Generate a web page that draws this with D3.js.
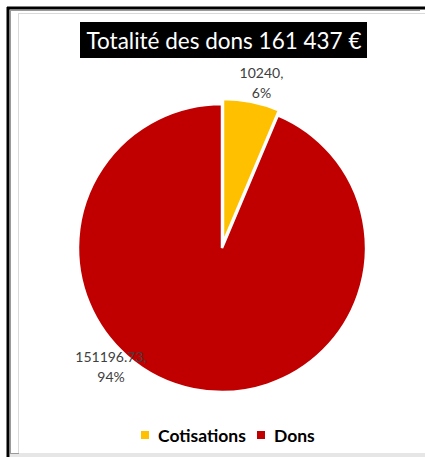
<!DOCTYPE html>
<html>
<head>
<meta charset="utf-8">
<script src="https://cdn.jsdelivr.net/npm/d3@7"></script>
<style>
  body { margin: 0; background: #fff; }
  svg { display: block; font-family: Lato, "Open Sans", sans-serif; }
</style>
</head>
<body>
<script>
// data
var categories = ["Cotisations", "Dons"];
var values = [10240, 151196.73];
var percents = ["6%", "94%"];
var colors = ["#FFC000", "#C00000"];
var titleText = "Totalité des dons 161 437 €";

var width = 425, height = 457;
var cx = 222, cy = 248, radius = 144;

var svg = d3.select("body").append("svg")
  .attr("width", width)
  .attr("height", height);

// frame lines (spreadsheet screenshot)
svg.append("rect").attr("x", 0).attr("y", 0).attr("width", width).attr("height", height).attr("fill", "#fff");
svg.append("line").attr("x1", 8).attr("y1", 7).attr("x2", 8).attr("y2", height).attr("stroke", "#000").attr("stroke-width", 3);
svg.append("line").attr("x1", 7).attr("y1", 8).attr("x2", width).attr("y2", 8).attr("stroke", "#000").attr("stroke-width", 3);
svg.append("line").attr("x1", 10.5).attr("y1", 10).attr("x2", 10.5).attr("y2", height).attr("stroke", "#9a9a9a").attr("stroke-width", 1);
svg.append("line").attr("x1", 10).attr("y1", 10.5).attr("x2", 420).attr("y2", 10.5).attr("stroke", "#9a9a9a").attr("stroke-width", 1);
svg.append("line").attr("x1", 18.5).attr("y1", 13).attr("x2", 18.5).attr("y2", 453).attr("stroke", "#d9d9d9").attr("stroke-width", 1);
svg.append("line").attr("x1", 18).attr("y1", 13.5).attr("x2", width).attr("y2", 13.5).attr("stroke", "#d9d9d9").attr("stroke-width", 1);
svg.append("rect").attr("x", 10).attr("y", 453).attr("width", width).attr("height", 4).attr("fill", "#e6e6e6");
svg.append("line").attr("x1", 10).attr("y1", 453.5).attr("x2", 19).attr("y2", 453.5).attr("stroke", "#9a9a9a");

// title
var title = svg.append("g");
title.append("rect")
  .attr("x", 80).attr("y", 22).attr("width", 287).attr("height", 36)
  .attr("fill", "#000");
title.append("text")
  .attr("x", 224).attr("y", 48.5)
  .attr("text-anchor", "middle")
  .attr("fill", "#fff")
  .style("font-size", "22.5px")
  .text(titleText);

// pie
var pie = d3.pie().sort(null).value(function(d) { return d; });
var arcs = pie(values);
var arc = d3.arc().innerRadius(0).outerRadius(radius);

var g = svg.append("g").attr("transform", "translate(" + cx + "," + cy + ")");

g.selectAll("path")
  .data(arcs)
  .enter()
  .append("path")
  .attr("d", arc)
  .attr("fill", function(d, i) { return colors[i]; })
  .attr("stroke", "#fff")
  .attr("stroke-width", 2.5)
  .attr("transform", function(d, i) {
    if (i != 0) return null;
    // small slice pulled out a little
    var a = (d.startAngle + d.endAngle) / 2;
    var off = 5;
    return "translate(" + (Math.sin(a) * off) + "," + (-Math.cos(a) * off) + ")";
  });

// data labels
var labelPos = [[261.5, 78], [111, 362]];
arcs.forEach(function(d, i) {
  var t = svg.append("text")
    .attr("text-anchor", "middle")
    .attr("fill", "#404040")
    .style("font-size", "14px");
  t.append("tspan").attr("x", labelPos[i][0]).attr("y", labelPos[i][1]).text(values[i] + ",");
  t.append("tspan").attr("x", labelPos[i][0]).attr("y", labelPos[i][1] + 20).text(percents[i]);
});

// legend
var legendX = [141, 257];
var legend = svg.selectAll(".leg")
  .data(categories)
  .enter()
  .append("g")
  .attr("transform", function(d, i) { return "translate(" + legendX[i] + ",431)"; });
legend.append("rect")
  .attr("width", 8).attr("height", 8)
  .attr("fill", function(d, i) { return colors[i]; });
legend.append("text")
  .attr("x", 17).attr("y", 11)
  .attr("fill", "#000")
  .style("font-size", "17.5px")
  .style("font-weight", "bold")
  .text(function(d) { return d; });
</script>
</body>
</html>
